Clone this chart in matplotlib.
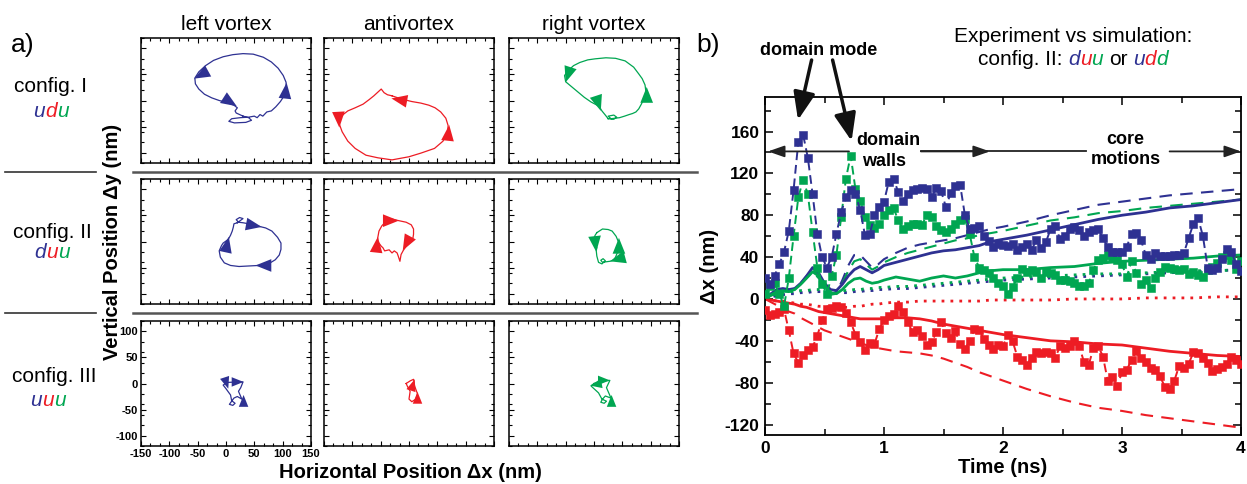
import numpy as np
import matplotlib
matplotlib.use('Agg')
import matplotlib.pyplot as plt
from matplotlib.ticker import MultipleLocator
from matplotlib.lines import Line2D

plt.rcParams['font.family'] = ['Liberation Sans', 'DejaVu Sans']

BLUE = '#2E3192'
RED = '#ED1C24'
GREEN = '#00A651'

# ---------------- panel a data (trajectories, nm) ----------------
traj_I_left = [(30,-30),(40,-33),(45,-38),(35,-42),(15,-43),(5,-40),(10,-35),(25,-33),(40,-32),(50,-30),
               (55,-33),(60,-27),(65,-30),(72,-22),(80,-20),(88,-12),(96,-2),(102,8),(106,20),(106,35),
               (101,48),(92,62),(80,74),(66,83),(48,89),(30,90),(12,88),(-5,84),(-22,77),(-36,67),
               (-48,55),(-55,43),(-54,32),(-48,22),(-38,12),(-25,5),(-12,0),(2,-4),(14,-9),(20,-14),
               (16,-20),(18,-24),(24,-27),(30,-30)]
heads_I_left = [(-56,42,-1,-0.6),(19,-11,1,-0.7),(107,34,0.1,1)]

traj_I_anti = [(-30,9),(-14,3),(5,-2),(21,-5),(35,-9),(46,-14),(56,-22),(65,-34),(69,-48),(68,-62),
               (60,-78),(45,-92),(21,-101),(0,-108),(-30,-114),(-55,-110),(-76,-105),(-95,-92),(-108,-78),
               (-118,-60),(-123,-45),(-123,-34),(-115,-26),(-108,-20),(-95,-14),(-81,-7),(-70,2),(-62,9),
               (-55,16),(-49,22),(-44,15),(-38,11),(-30,9)]
heads_I_anti = [(-123,-52,0.05,-1),(-31,4,-1,0.2),(71,-47,0.1,1)]

traj_I_right = [(25,-35),(35,-36),(40,-32),(35,-28),(25,-30),(30,-35),(45,-33),(54,-30),(62,-27),(68,-25),
                (74,-22),(79,-16),(84,-6),(88,4),(92,14),(90,30),(85,42),(79,51),(70,64),(55,76),(38,81),
                (21,82),(2,80),(-11,78),(-25,73),(-36,67),(-45,58),(-52,48),(-50,36),(-39,26),(-28,16),
                (-17,6),(-5,-3),(9,-11),(14,-20),(20,-28),(25,-35)]
heads_I_right = [(-50,35,-0.3,-1),(12,-20,0.3,-1),(93,26,0,1)]

traj_II_left = [(20,36),(25,40),(30,44),(24,46),(18,42),(22,37),(30,36),(40,34),(55,30),(70,26),(81,20),
                (91,8),(97,-3),(97,-15),(94,-26),(87,-35),(78,-41),(68,-45),(58,-46),(40,-47),(23,-48),
                (8,-46),(-3,-41),(-10,-30),(-12,-18),(-8,-8),(-5,-3),(4,4),(8,12),(11,20),(13,28),(14,34),(20,36)]
heads_II_left = [(63,28,1,-0.2),(52,-46,-1,0),(5,9,0.2,1)]

traj_II_anti = [(-43,36),(-30,43),(-18,40),(-5,37),(4,32),(8,24),(8,14),(7,7),(2,-2),(-5,-9),(-10,-17),
                (-14,-25),(-16,-38),(-19,-28),(-21,-22),(-26,-18),(-30,-22),(-35,-16),(-43,-18),(-46,-12),
                (-49,-9),(-53,-3),(-56,-3),(-55,8),(-53,20),(-48,30),(-43,36)]
heads_II_anti = [(-18,40,1,0),(-11,-17,-0.5,-1),(-55,9,0.1,1)]

traj_II_right = [(5,17),(15,24),(25,23),(32,20),(39,10),(44,-3),(43,-14),(41,-22),(38,-30),(35,-36),
                 (28,-38),(21,-39),(15,-40),(12,-36),(16,-33),(20,-37),(14,-43),(8,-40),(5,-28),(4,-18),
                 (5,-11),(0,-3),(-1,4),(2,12),(5,17)]
heads_II_right = [(44,7,0,1),(28,-38,-1,-0.3),(4,-20,0.1,-1)]

traj_III_left = [(2,2),(20,3),(30,3),(26,-8),(22,-15),(28,-30),(20,-25),(14,-28),(10,-34),(6,-40),
                 (12,-42),(16,-38),(10,-33),(8,-22),(0,-10),(-5,-3),(2,2)]
heads_III_left = [(31,3,1,0),(31,-22,0,1),(4,-10,0.3,-1)]

traj_III_anti = [(-5,0),(2,5),(8,8),(10,-5),(15,-20),(12,-30),(5,-35),(0,-30),(2,-15),(-3,-5),(-5,0)]
heads_III_anti = [(10,8,0.3,1),(15,-16,0,1)]

traj_III_right = [(0,0),(15,5),(28,6),(22,-8),(30,-28),(20,-24),(15,-30),(12,-36),(18,-38),(22,-34),
                  (14,-30),(8,-18),(-5,-5),(0,0)]
heads_III_right = [(-7,-4,-1,-0.2),(31,-22,0,1),(28,6,1,0)]

col_titles = ['left vortex', 'antivortex', 'right vortex']
row_names = ['config. I', 'config. II', 'config. III']
row_codes = [[('u', BLUE), ('d', RED), ('u', GREEN)],
             [('d', BLUE), ('u', RED), ('u', GREEN)],
             [('u', BLUE), ('u', RED), ('u', GREEN)]]
grid_traj = [[traj_I_left, traj_I_anti, traj_I_right],
             [traj_II_left, traj_II_anti, traj_II_right],
             [traj_III_left, traj_III_anti, traj_III_right]]
grid_heads = [[heads_I_left, heads_I_anti, heads_I_right],
              [heads_II_left, heads_II_anti, heads_II_right],
              [heads_III_left, heads_III_anti, heads_III_right]]
col_colors = [BLUE, RED, GREEN]
a_xticks = [-150, -100, -50, 0, 50, 100, 150]
a_yticks = [-100, -50, 0, 50, 100]

# ---------------- panel b data ----------------
t_exp = np.round(np.arange(0, 4.0001, 0.04), 2)
blue_exp = [20,14,22,33,45,65,104,150,157,135,
            100,62,40,30,40,62,83,97,104,100,
            85,61,62,80,88,93,112,115,102,94,
            100,104,105,106,105,97,106,103,88,101,
            108,109,80,67,68,70,60,55,50,53,
            52,51,53,47,50,53,47,56,49,54,
            67,70,57,60,67,69,66,60,64,66,
            67,58,50,45,45,45,50,62,63,56,
            42,38,44,41,41,41,42,42,44,58,
            72,77,60,30,28,30,38,48,45,33,
            27]
green_exp = [5,12,15,5,-7,20,60,97,114,100,
             64,30,14,5,22,42,78,115,137,105,
             94,78,71,68,72,80,85,87,75,67,
             70,72,72,71,80,78,70,66,64,67,
             72,75,76,62,40,30,28,25,20,15,
             12,5,11,20,29,26,28,26,20,26,
             25,23,18,18,17,15,12,12,15,28,
             37,39,42,40,37,33,21,36,25,14,
             18,10,20,26,31,30,29,28,29,24,
             26,23,21,28,31,34,40,42,37,29,
             36]
red_exp = [-11,-15,-14,-12,-10,-30,-52,-61,-54,-49,
           -46,-35,-20,-10,-9,-7,-8,-13,-22,-34,
           -41,-49,-42,-43,-29,-20,-16,-14,-7,-12,
           -22,-32,-30,-35,-44,-41,-32,-22,-33,-37,
           -31,-43,-48,-40,-29,-30,-38,-44,-48,-44,
           -45,-34,-40,-55,-58,-63,-56,-51,-52,-51,
           -52,-56,-45,-47,-45,-40,-45,-60,-63,-47,
           -45,-55,-78,-75,-83,-70,-68,-58,-50,-56,
           -60,-66,-68,-74,-84,-86,-78,-64,-66,-62,
           -51,-52,-56,-61,-69,-67,-65,-62,-55,-58,
           -62]

t_sim = [0,0.05,0.1,0.15,0.2,0.25,0.3,0.35,0.4,0.45,0.5,0.55,0.6,0.65,0.7,0.75,0.8,0.85,0.9,0.95,
         1.0,1.1,1.2,1.3,1.4,1.5,1.6,1.7,1.8,1.9,2.0,2.2,2.4,2.6,2.8,3.0,3.2,3.4,3.6,3.8,4.0]
blue_solid = [0,5,9,10,9,10,15,22,30,25,15,9,8,14,22,28,31,28,25,28,
              32,35,38,41,44,46,47,49,51,55,57,61,66,71,76,80,83,87,89,92,95]
blue_dashed = [0,4,8,9,8,10,15,22,28,22,12,5,6,18,32,42,42,36,30,33,
               38,44,49,52,54,56,58,61,64,67,69,74,80,85,90,93,96,99,101,103,105]
blue_dotted = [0,2,3,4,5,5,6,6,7,7,7,7,6,6,6,7,7,8,8,9,
               9,10,10,11,12,13,14,15,16,17,18,19,20,21,22,23,24,25,26,27,28]
green_solid = [0,4,7,8,7,9,14,20,26,22,13,6,5,9,15,19,20,17,15,16,
               18,21,19,17,20,22,20,22,25,27,28,28,30,31,34,36,37,38,39,41,42]
green_dashed = [0,3,6,7,7,9,14,20,26,20,10,4,5,15,27,36,38,33,28,31,
                35,40,44,47,50,53,56,58,61,63,65,70,75,78,82,84,87,89,91,93,95]
green_dotted = [0,3,5,6,7,7,8,8,9,9,9,9,8,8,8,9,9,10,10,11,
                11,12,12,13,14,15,16,17,18,19,20,21,22,23,24,24,25,26,27,27,28]
red_solid = [0,-1,-2,-3,-4,-5,-7,-8,-10,-12,-13,-14,-15,-16,-17,-18,-19,-19,-19,-19,
             -19,-18,-18,-19,-21,-24,-26,-28,-30,-32,-34,-37,-40,-41,-43,-44,-47,-50,-52,-54,-55]
red_dashed = [0,-3,-6,-9,-12,-14,-18,-21,-24,-27,-30,-32,-34,-36,-38,-40,-42,-44,-46,-47,
              -48,-50,-51,-52,-54,-57,-61,-65,-70,-74,-78,-86,-93,-99,-104,-107,-111,-114,-117,-120,-123]
red_dotted = [0,-1,-2,-2,-3,-4,-5,-5,-6,-7,-7,-8,-8,-8,-8,-7,-7,-6,-5,-5,
              -4,-3,-3,-2,-2,-2,-2,-2,-2,-1,-1,-1,-1,0,0,0,1,1,1,2,2]

b_yticks = [-120, -80, -40, 0, 40, 80, 120, 160]
b_xticks = [0, 1, 2, 3, 4]

# ---------------- figure ----------------
W, H = 1247, 484
fig = plt.figure(figsize=(W / 100, H / 100), dpi=100)


def fx(px):
    return px / W


def fy(py):
    return 1 - py / H


renderer = fig.canvas.get_renderer()


def measure(s, size, style='normal', weight='normal'):
    t1 = fig.text(0, 0, 'H' + s + 'H', size=size, style=style, weight=weight)
    t2 = fig.text(0, 0, 'HH', size=size, style=style, weight=weight)
    w = t1.get_window_extent(renderer).width - t2.get_window_extent(renderer).width
    t1.remove()
    t2.remove()
    return w


def rich_text(xc, ybase, parts, size):
    widths = [measure(s, size, st) for s, c, st in parts]
    x = xc - sum(widths) / 2
    for (s, c, st), w in zip(parts, widths):
        if s.strip():
            fig.text(fx(x), fy(ybase), s, color=c, style=st, size=size,
                     ha='left', va='baseline')
        x += w


def head(ax, tx, ty, dx, dy, color, scale=10):
    n = np.hypot(dx, dy)
    ax.annotate('', xy=(tx, ty), xytext=(tx - 20 * dx / n, ty - 20 * dy / n),
                arrowprops=dict(arrowstyle='-|>,head_length=0.95,head_width=0.38',
                                mutation_scale=scale, lw=0, color=color,
                                shrinkA=0, shrinkB=0), annotation_clip=False)


col_left = [141, 324, 509]
row_top = [38, 179, 321]
aw, ah = 170, 125

for r in range(3):
    for c in range(3):
        ax = fig.add_axes([fx(col_left[c]), fy(row_top[r] + ah), aw / W, ah / H])
        xs, ys = zip(*grid_traj[r][c])
        ax.plot(xs, ys, color=col_colors[c], lw=0.9)
        for (tx, ty, dx, dy) in grid_heads[r][c]:
            head(ax, tx, ty, dx, dy, col_colors[c], scale=12 if r < 2 else 9)
        ax.set_xlim(-150, 150)
        ax.set_ylim(-120, 120)
        ax.xaxis.set_minor_locator(MultipleLocator(50 / 3))
        ax.yaxis.set_minor_locator(MultipleLocator(20))
        ax.tick_params(which='both', direction='in', top=True, right=True, width=0.8)
        ax.tick_params(which='major', length=3.5)
        ax.tick_params(which='minor', length=2.2)
        for sp in ax.spines.values():
            sp.set_linewidth(1.1)
        if r == 2 and c == 0:
            ax.set_xticks(a_xticks, [str(v) for v in a_xticks], fontweight='bold', fontsize=8)
            ax.set_yticks(a_yticks, [str(v) for v in a_yticks], fontweight='bold', fontsize=8)
            ax.tick_params(which='major', pad=2)
        else:
            ax.set_xticks(a_xticks)
            ax.set_yticks(a_yticks)
            ax.tick_params(labelbottom=False, labelleft=False)

# column titles
for c, title in enumerate(col_titles):
    fig.text(fx(col_left[c] + aw / 2), fy(29.5), title, ha='center', va='baseline', size=15)

# row names
row_name_pos = [(51, 92, 117), (52, 238, 258), (54, 382, 406)]
for r in range(3):
    xc, yb1, yb2 = row_name_pos[r]
    fig.text(fx(xc), fy(yb1), row_names[r], ha='center', va='baseline', size=15)
    rich_text(xc - (6 if r == 2 else 0), yb2, [(s, col, 'italic') for s, col in row_codes[r]], 15)

fig.text(fx(23), fy(52), 'a)', ha='center', va='baseline', size=19)

# separators
for ys in (171.5, 312.5):
    fig.add_artist(Line2D([fx(133), fx(697)], [fy(ys)] * 2, color='#555555', lw=1.8))
    fig.add_artist(Line2D([fx(5), fx(96)], [fy(ys)] * 2, color='#333333', lw=1.2))

fig.text(fx(112), fy(242), 'Vertical Position Δy (nm)', rotation=90, ha='center', va='center',
         weight='bold', size=14.5)
fig.text(fx(410), fy(478), 'Horizontal Position Δx (nm)', ha='center', va='baseline',
         weight='bold', size=14.5)

# ---------------- panel b ----------------
axb = fig.add_axes([fx(765), fy(435), (1241 - 765) / W, (435 - 97) / H])
for vals, col in ((blue_dotted, BLUE), (green_dotted, GREEN), (red_dotted, RED)):
    axb.plot(t_sim, vals, color=col, lw=2, dashes=(1, 2.2), zorder=2)
for vals, col in ((blue_dashed, BLUE), (green_dashed, GREEN), (red_dashed, RED)):
    axb.plot(t_sim, vals, color=col, lw=1.5, dashes=(6, 4), zorder=2)
for vals, col in ((blue_solid, BLUE), (green_solid, GREEN), (red_solid, RED)):
    axb.plot(t_sim, vals, color=col, lw=2, zorder=2)
for vals, col in ((red_exp, RED), (green_exp, GREEN), (blue_exp, BLUE)):
    axb.plot(t_exp, vals, color=col, lw=1.4, dashes=(4.5, 2.5), marker='s', ms=6,
             mec=col, mew=0.4, zorder=3)

axb.set_xlim(0, 4)
axb.set_ylim(-130, 193)
axb.set_xticks(b_xticks, [str(v) for v in b_xticks], fontweight='bold', fontsize=12.5)
axb.set_yticks(b_yticks, [str(v) for v in b_yticks], fontweight='bold', fontsize=12.5)
axb.xaxis.set_minor_locator(MultipleLocator(0.5))
axb.yaxis.set_minor_locator(MultipleLocator(20))
axb.tick_params(which='both', direction='in', top=True, right=True, width=1.1)
axb.tick_params(which='major', length=6, pad=4)
axb.tick_params(which='minor', length=4)
for sp in axb.spines.values():
    sp.set_linewidth(1.3)
axb.set_xlabel('Time (ns)', fontweight='bold', fontsize=14.5, labelpad=2)
axb.set_ylabel('Δx (nm)', fontweight='bold', fontsize=14.5, labelpad=4)

# phase arrows
yarr = 141
ap = dict(arrowstyle='-|>,head_length=1.0,head_width=0.35', mutation_scale=10, lw=1.3,
          color='#222222', shrinkA=0, shrinkB=0)
axb.annotate('', xy=(0.025, yarr), xytext=(0.706, yarr), arrowprops=ap, annotation_clip=False)
axb.plot([1.31, 2.70], [yarr, yarr], color='#222222', lw=1.3, clip_on=False)
axb.annotate('', xy=(1.89, yarr), xytext=(1.31, yarr), arrowprops=ap, annotation_clip=False)
axb.annotate('', xy=(4.0, yarr), xytext=(3.40, yarr), arrowprops=ap, annotation_clip=False)

axb.text(1.035, 147, 'domain', ha='center', va='baseline', weight='bold', fontsize=13)
axb.text(1.0, 127, 'walls', ha='center', va='baseline', weight='bold', fontsize=13)
axb.text(3.03, 148, 'core', ha='center', va='baseline', weight='bold', fontsize=13)
axb.text(3.03, 129, 'motions', ha='center', va='baseline', weight='bold', fontsize=13)

# domain mode arrows
dm = dict(arrowstyle='-|>,head_length=1.4,head_width=0.55', mutation_scale=12, lw=2.5,
          color='#111111', shrinkA=0, shrinkB=0)
fig.add_artist(matplotlib.patches.FancyArrowPatch((fx(811.6), fy(60)), (fx(798), fy(120)),
                                                  transform=fig.transFigure, **dm))
fig.add_artist(matplotlib.patches.FancyArrowPatch((fx(832.6), fy(60)), (fx(851.6), fy(141)),
                                                  transform=fig.transFigure, **dm))
fig.text(fx(819), fy(55), 'domain mode', ha='center', va='baseline', weight='bold', size=13)

fig.text(fx(708), fy(52), 'b)', ha='center', va='baseline', size=19)
fig.text(fx(1073), fy(41.5), 'Experiment vs simulation:', ha='center', va='baseline', size=15)
rich_text(1073, 65, [('config. II:', 'black', 'normal'), (' ', 'black', 'normal'),
                     ('d', BLUE, 'italic'), ('u', RED, 'italic'), ('u', GREEN, 'italic'),
                     (' ', 'black', 'normal'), ('or', 'black', 'normal'), (' ', 'black', 'normal'),
                     ('u', BLUE, 'italic'), ('d', RED, 'italic'), ('d', GREEN, 'italic')], 15)

fig.savefig('out.png', dpi=100)
